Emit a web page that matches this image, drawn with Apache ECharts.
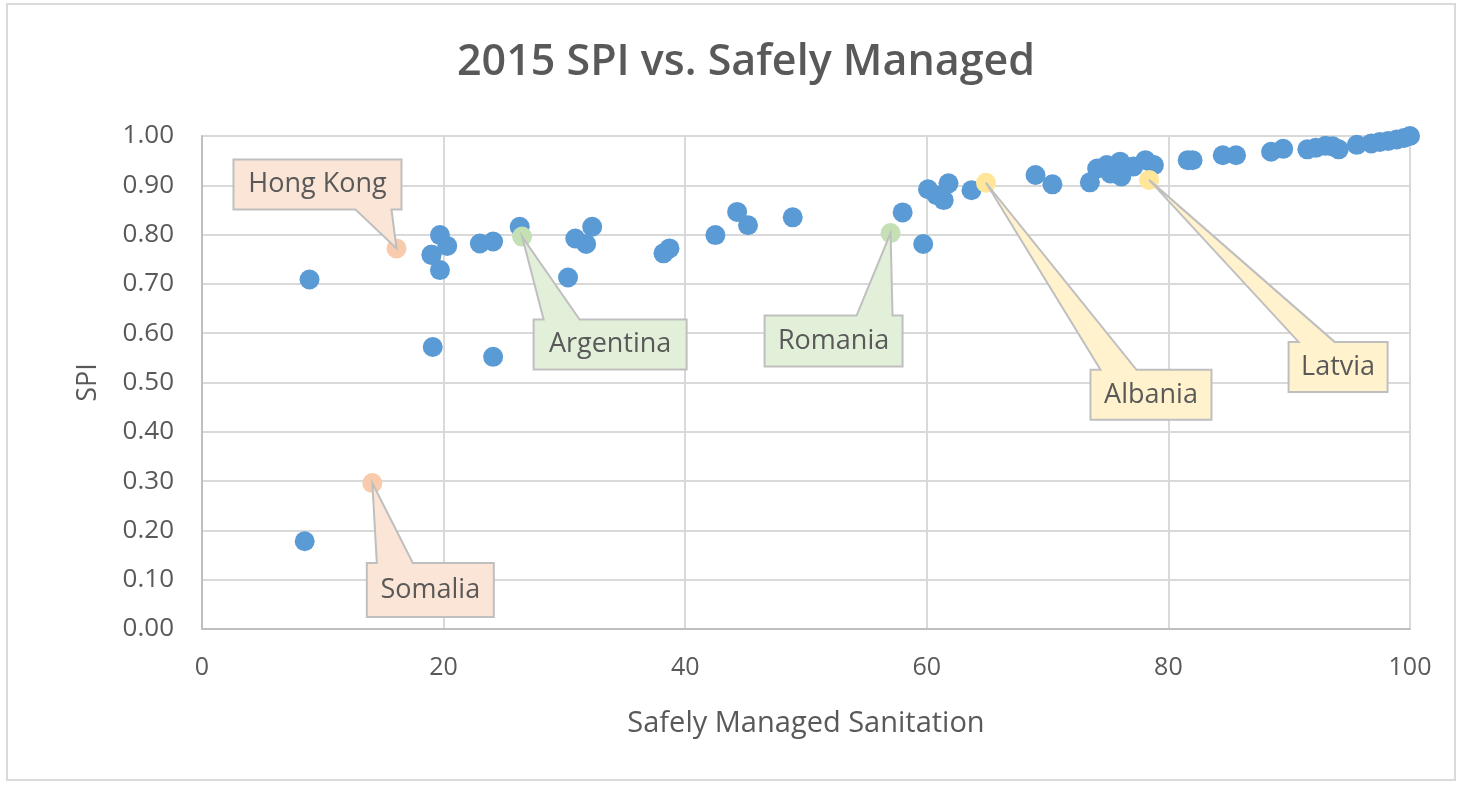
<!DOCTYPE html>
<html>
<head>
<meta charset="utf-8">
<script src="https://cdn.jsdelivr.net/npm/echarts@6/dist/echarts.min.js"></script>
<style>
html,body{margin:0;padding:0;background:#fff;}
#frame{position:absolute;left:6px;top:3px;width:1450px;height:778px;border:2px solid #d9d9d9;box-sizing:border-box;}
#chart{position:absolute;left:0;top:0;width:1464px;height:787px;}
</style>
</head>
<body>
<div id="frame"></div>
<div id="chart"></div>
<script>
// ---- data ----
const titleText = '2015 SPI vs. Safely Managed';
const xAxisTitle = 'Safely Managed Sanitation';
const yAxisTitle = 'SPI';

const sanitation = [8.5, 8.9, 19.0, 19.7, 20.3, 19.0, 19.7, 23.0, 24.1, 26.3, 30.9, 32.3, 31.8, 30.3, 19.1, 24.1,
  38.2, 38.7, 42.5, 44.3, 45.2, 48.9, 58.0, 59.7, 60.1, 60.8, 61.4, 61.8, 63.7,
  69.0, 70.4, 73.5, 74.1, 74.9, 75.2, 76.0, 76.1, 77.1, 78.1, 78.8,
  81.6, 82.0, 84.5, 85.6, 88.5, 89.5, 91.5, 92.2, 93.0, 93.6, 94.1, 95.6, 96.8, 97.5, 98.2, 98.9, 99.5, 100];
const spi = [0.178, 0.709, 0.759, 0.799, 0.777, 0.759, 0.728, 0.782, 0.786, 0.816, 0.792, 0.816, 0.781, 0.713, 0.572, 0.552,
  0.762, 0.772, 0.799, 0.846, 0.819, 0.835, 0.845, 0.781, 0.892, 0.880, 0.870, 0.904, 0.890,
  0.921, 0.902, 0.906, 0.934, 0.941, 0.924, 0.948, 0.918, 0.938, 0.951, 0.941,
  0.951, 0.951, 0.961, 0.961, 0.968, 0.974, 0.973, 0.976, 0.980, 0.979, 0.973, 0.982, 0.985, 0.988, 0.990, 0.993, 0.996, 1.000];

const labelNames = ['Hong Kong', 'Somalia', 'Argentina', 'Romania', 'Albania', 'Latvia'];
const labelX = [16.1, 14.1, 26.5, 57.0, 64.9, 78.4];
const labelY = [0.772, 0.296, 0.796, 0.803, 0.905, 0.911];

const xTicks = [0, 20, 40, 60, 80, 100];
const yTicks = [0, 0.1, 0.2, 0.3, 0.4, 0.5, 0.6, 0.7, 0.8, 0.9, 1.0];

// ---- styles ----
const labelStyle = {
  'Hong Kong': {dot: '#f8cbad', fill: '#fbe5d6', dx: -79, dy: -64, w: 168, h: 50},
  'Somalia':   {dot: '#f8cbad', fill: '#fbe5d6', dx: 58,  dy: 107, w: 127, h: 54},
  'Argentina': {dot: '#c5e0b4', fill: '#e2f0d9', dx: 88,  dy: 108, w: 153, h: 50},
  'Romania':   {dot: '#c5e0b4', fill: '#e2f0d9', dx: -57, dy: 108, w: 138, h: 51},
  'Albania':   {dot: '#ffe699', fill: '#fff2cc', dx: 165, dy: 212, w: 121, h: 50},
  'Latvia':    {dot: '#ffe699', fill: '#fff2cc', dx: 189, dy: 187, w: 99,  h: 50}
};
const FONT = '"Open Sans", sans-serif';
const TXT = '#595959';

const blueData = sanitation.map((x, i) => [x, spi[i]]);
const labelData = labelNames.map((n, i) => [labelX[i], labelY[i], n]);

function renderCallout(params, api) {
  const name = labelNames[params.dataIndex];
  const st = labelStyle[name];
  const p = api.coord([api.value(0), api.value(1)]);
  const cx = p[0] + st.dx, cy = p[1] + st.dy;
  const L = cx - st.w / 2, R = cx + st.w / 2, T = cy - st.h / 2, B = cy + st.h / 2;
  const half = 18;
  let bc = Math.min(Math.max(p[0], L + 28), R - 28);
  let pts;
  if (p[1] < T) {
    pts = [[L, T], [bc - half, T], [p[0], p[1]], [bc + half, T], [R, T], [R, B], [L, B]];
  } else {
    pts = [[L, T], [R, T], [R, B], [bc + half, B], [p[0], p[1]], [bc - half, B], [L, B]];
  }
  return {
    type: 'group',
    children: [
      {type: 'polygon', shape: {points: pts},
       style: {fill: st.fill, stroke: '#bfbfbf', lineWidth: 2}},
      {type: 'text', x: cx, y: cy,
       style: {text: name, fill: TXT, font: '27px ' + FONT, align: 'center', verticalAlign: 'middle'}}
    ]
  };
}

const chart = echarts.init(document.getElementById('chart'));
chart.setOption({
  animation: false,
  backgroundColor: 'transparent',
  title: {
    text: titleText, left: 741, top: 36, textAlign: 'center',
    textStyle: {fontFamily: FONT, fontSize: 43, fontWeight: 600, color: TXT}
  },
  grid: {left: 202, right: 54, top: 136, bottom: 158},
  xAxis: {
    type: 'value', min: xTicks[0], max: xTicks[xTicks.length - 1], interval: 20,
    name: xAxisTitle, nameLocation: 'middle', nameGap: 80,
    nameTextStyle: {fontFamily: FONT, fontSize: 29, color: TXT},
    axisLine: {show: true, lineStyle: {color: '#bfbfbf', width: 2}},
    axisTick: {show: false},
    axisLabel: {fontFamily: FONT, fontSize: 25, color: TXT, margin: 26},
    splitLine: {show: true, lineStyle: {color: '#d9d9d9', width: 2}}
  },
  yAxis: {
    type: 'value', min: yTicks[0], max: yTicks[yTicks.length - 1], interval: 0.1,
    name: yAxisTitle, nameLocation: 'middle', nameGap: 100,
    nameTextStyle: {fontFamily: FONT, fontSize: 27, color: TXT},
    axisLine: {show: true, lineStyle: {color: '#bfbfbf', width: 2}},
    axisTick: {show: false},
    axisLabel: {fontFamily: FONT, fontSize: 26, color: TXT, margin: 28, formatter: v => v.toFixed(2)},
    splitLine: {show: true, lineStyle: {color: '#d9d9d9', width: 2}}
  },
  series: [
    {type: 'scatter', data: blueData, symbolSize: 20, itemStyle: {color: '#5b9bd5', opacity: 1}, z: 2},
    {type: 'scatter', data: labelData, symbolSize: 20,
     itemStyle: {color: p => labelStyle[p.data[2]].dot, opacity: 1}, z: 3},
    {type: 'custom', data: labelData, renderItem: renderCallout, z: 4, clip: false}
  ]
});
</script>
</body>
</html>
